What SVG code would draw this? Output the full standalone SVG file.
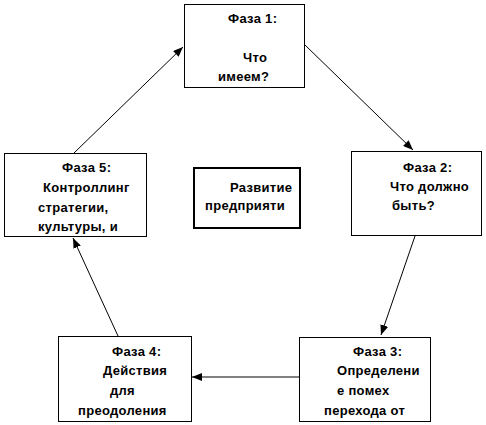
<svg xmlns="http://www.w3.org/2000/svg" width="486" height="425" viewBox="0 0 486 425">
<style>
.box{fill:#fff;stroke:#000;stroke-width:1}
.ctr{fill:#fff;stroke:#000;stroke-width:2}
text{font-family:"Liberation Sans",Arial,sans-serif;font-size:13px;font-weight:bold;fill:#000;letter-spacing:0.3px}
.c{stroke:#000;stroke-width:1;fill:none;marker-end:url(#ah)}
</style>
<defs>
<marker id="ah" viewBox="0 0 10 8" refX="10" refY="4" markerWidth="10" markerHeight="8" markerUnits="userSpaceOnUse" orient="auto">
<path d="M0,0 L10,4 L0,8 Z" fill="#000"/>
</marker>
</defs>
<rect width="486" height="425" fill="#fff"/>
<g id="connectors">
<line class="c" x1="74" y1="153" x2="183" y2="47"/>
<line class="c" x1="305" y1="45" x2="413" y2="150"/>
<line class="c" x1="415" y1="236" x2="381" y2="335"/>
<line class="c" x1="299" y1="377" x2="192" y2="377"/>
<line class="c" x1="118" y1="336" x2="73" y2="238"/>
</g>
<g id="phase1">
<rect class="box" x="184.5" y="4.5" width="120" height="83"/>
<text x="228" y="23">Фаза 1:</text>
<text x="243" y="62">Что</text>
<text x="218" y="81">имеем?</text>
</g>
<g id="phase2">
<rect class="box" x="351.5" y="151.5" width="130" height="84"/>
<text x="403" y="172">Фаза 2:</text>
<text x="390" y="191">Что должно</text>
<text x="392" y="210">быть?</text>
</g>
<g id="phase3">
<rect class="box" x="299.5" y="337.5" width="131" height="84"/>
<text x="353" y="356">Фаза 3:</text>
<text x="337" y="375">Определени</text>
<text x="337" y="395">е помех</text>
<text x="324" y="415">перехода от</text>
</g>
<g id="phase4">
<rect class="box" x="58.5" y="336.5" width="133" height="85"/>
<text x="112" y="356">Фаза 4:</text>
<text x="103" y="375">Действия</text>
<text x="110" y="395">для</text>
<text x="78" y="415">преодоления</text>
</g>
<g id="phase5">
<rect class="box" x="4.5" y="153.5" width="142" height="83"/>
<text x="62" y="172">Фаза 5:</text>
<text x="43" y="192">Контроллинг</text>
<text x="38" y="212">стратегии,</text>
<text x="38" y="231">культуры, и</text>
</g>
<g id="center">
<rect class="ctr" x="194" y="168" width="106" height="60"/>
<text x="230" y="192">Развитие</text>
<text x="205" y="210">предприяти</text>
</g>
</svg>
